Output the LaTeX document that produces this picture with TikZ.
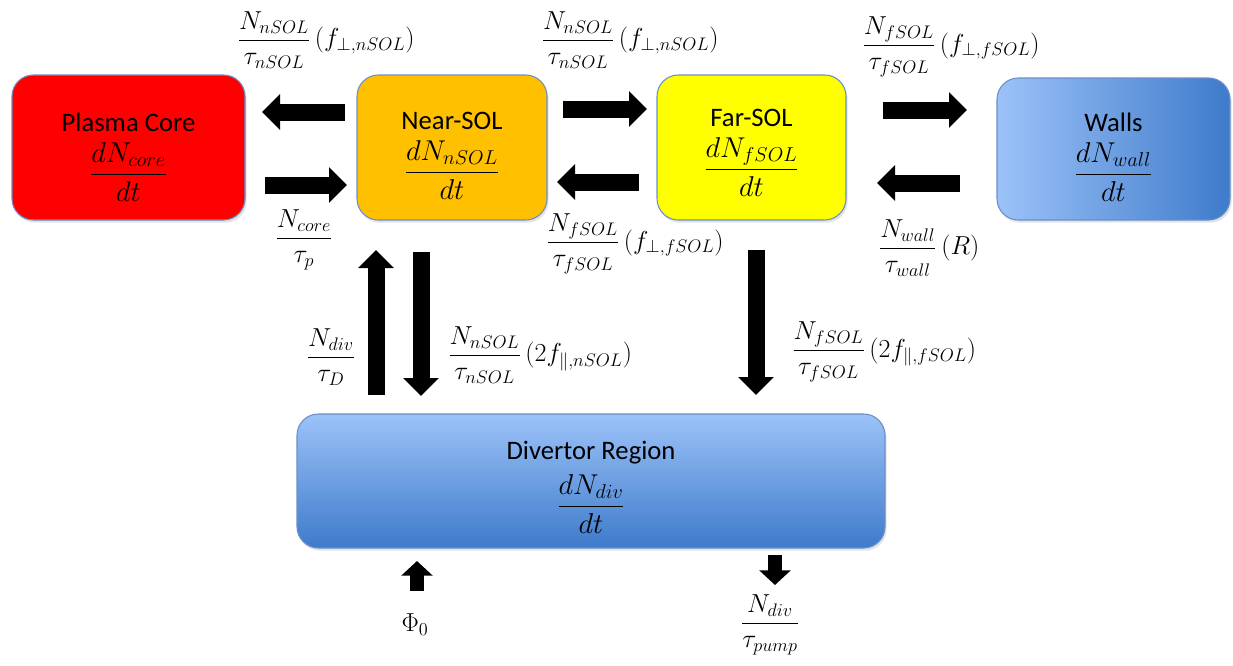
\RequirePackage{fix-cm}
\documentclass[tikz,border=0pt]{standalone}
\usepackage[no-math]{fontspec}
\newfontfamily\calfont{Carlito}
\usetikzlibrary{arrows.meta,shadows}
\newdimen\px \px=0.75pt
\definecolor{boxline}{HTML}{6A8FC8}
\definecolor{coreRed}{HTML}{FF0000}
\definecolor{nearOr}{HTML}{FFC000}
\definecolor{farYel}{HTML}{FFFF00}
\definecolor{blueLight}{HTML}{9CC2F8}
\definecolor{blueDark}{HTML}{3E7BCB}
\begin{document}
\begin{tikzpicture}[x=0.75pt,y=-0.75pt,
  box/.style={draw=boxline, line width=0.8pt, rounded corners=16pt,
    drop shadow={opacity=0.22, shadow xshift=1.2pt, shadow yshift=-2pt}},
  txt/.style={align=center, inner sep=0pt, font=\fontsize{20}{24}\selectfont},
  lab/.style={inner sep=0pt, font=\fontsize{19.5}{23}\selectfont},
  blk/.style={draw=black, line width=12.75pt, -{Triangle[length=13.5pt,width=26pt]}},
  blks/.style={draw=black, line width=11pt, -{Triangle[length=11pt,width=23pt]}}]
\useasboundingbox (0,0) rectangle (1233,665);

% boxes
\node[box, fill=coreRed, minimum width=233*\px, minimum height=145*\px] (core) at (128.5,147.5) {};
\node[box, fill=nearOr, minimum width=190*\px, minimum height=145*\px] (near) at (452,147.5) {};
\node[box, fill=farYel, minimum width=189*\px, minimum height=145*\px] (far) at (751.5,147.5) {};
\node[box, left color=blueLight, right color=blueDark, minimum width=233*\px, minimum height=142*\px] (walls) at (1113.5,149) {};
\node[box, top color=blueLight, bottom color=blueDark, minimum width=588*\px, minimum height=134*\px] (div) at (591,481) {};

% box texts
\newcommand\boxtext[2]{{\calfont #1}\\[7pt]{\fontsize{21.5}{24}\selectfont$\displaystyle\frac{dN_{#2}}{dt}$}}
\node[txt] (coretxt) at (128.5,157) {\boxtext{Plasma Core}{core}};
\node[txt] (neartxt) at (452,156) {\boxtext{Near-SOL}{nSOL}};
\node[txt] (fartxt) at (751.5,153) {\boxtext{Far-SOL}{fSOL}};
\node[txt] (wallstxt) at (1113.5,157) {\boxtext{Walls}{wall}};
\node[txt] (divtxt) at (591,487) {\boxtext{Divertor Region}{div}};

% arrow end points
\coordinate (a1s) at (345,112);  \coordinate (a1e) at (262,112);
\coordinate (a2s) at (265,185);  \coordinate (a2e) at (347,185);
\coordinate (a3s) at (563,109);  \coordinate (a3e) at (647,109);
\coordinate (a4s) at (639,182);  \coordinate (a4e) at (557,182);
\coordinate (a5s) at (883,110);  \coordinate (a5e) at (967,110);
\coordinate (a6s) at (960,183);  \coordinate (a6e) at (877,183);
\coordinate (a7s) at (376,395);  \coordinate (a7e) at (376,250);
\coordinate (a8s) at (421,252);  \coordinate (a8e) at (421,396);
\coordinate (a9s) at (756,250);  \coordinate (a9e) at (756,395);
\coordinate (a10s) at (417,591); \coordinate (a10e) at (417,561);
\coordinate (a11s) at (775,555); \coordinate (a11e) at (775,585);

\draw[blk] (a1s) -- (a1e);
\draw[blk] (a2s) -- (a2e);
\draw[blk] (a3s) -- (a3e);
\draw[blk] (a4s) -- (a4e);
\draw[blk] (a5s) -- (a5e);
\draw[blk] (a6s) -- (a6e);
\draw[blk] (a7s) -- (a7e);
\draw[blk] (a8s) -- (a8e);
\draw[blk] (a9s) -- (a9e);
\draw[blks] (a10s) -- (a10e);
\draw[blks] (a11s) -- (a11e);

% labels
\node[lab] (l1) at (326,40) {$\displaystyle\frac{N_{nSOL}}{\tau_{nSOL}}\,(f_{\perp,nSOL})$};
\node[lab] (l2) at (630,40) {$\displaystyle\frac{N_{nSOL}}{\tau_{nSOL}}\,(f_{\perp,nSOL})$};
\node[lab] (l3) at (951,47) {$\displaystyle\frac{N_{fSOL}}{\tau_{fSOL}}\,(f_{\perp,fSOL})$};
\node[lab] (l4) at (304,240) {$\displaystyle\frac{N_{core}}{\tau_{p}}$};
\node[lab] (l5) at (635,244) {$\displaystyle\frac{N_{fSOL}}{\tau_{fSOL}}\,(f_{\perp,fSOL})$};
\node[lab] (l6) at (929,248) {$\displaystyle\frac{N_{wall}}{\tau_{wall}}\,(R)$};
\node[lab] (l7) at (331,357) {$\displaystyle\frac{N_{div}}{\tau_{D}}$};
\node[lab] (l8) at (540,355) {$\displaystyle\frac{N_{nSOL}}{\tau_{nSOL}}\,(2f_{\parallel,nSOL})$};
\node[lab] (l9) at (884,352) {$\displaystyle\frac{N_{fSOL}}{\tau_{fSOL}}\,(2f_{\parallel,fSOL})$};
\node[lab] (l10) at (415,625) {$\Phi_0$};
\node[lab] (l11) at (770,625) {$\displaystyle\frac{N_{div}}{\tau_{pump}}$};
\end{tikzpicture}
\end{document}
